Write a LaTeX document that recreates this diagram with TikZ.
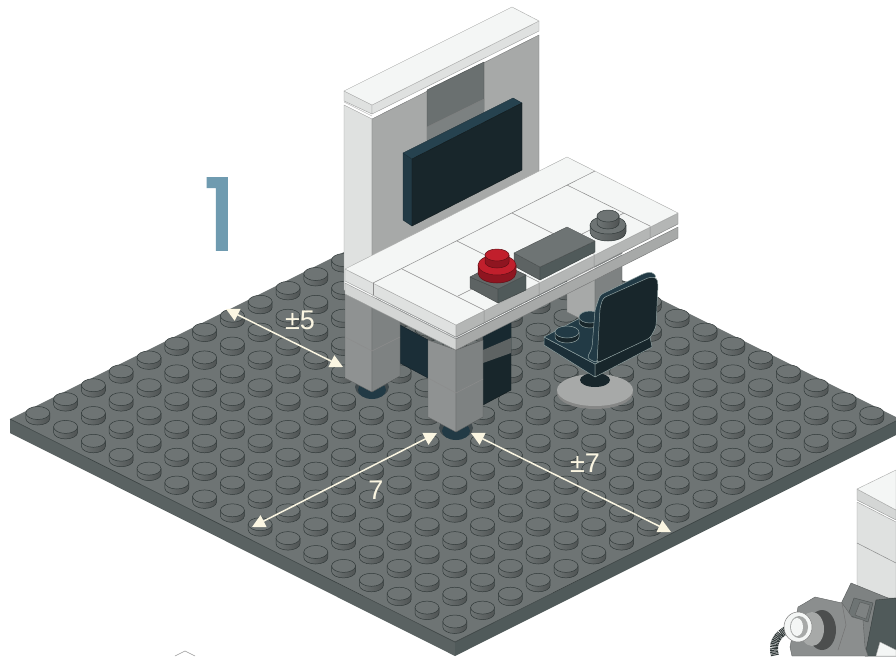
\documentclass[tikz,border=0pt]{standalone}
\usepackage{fontspec}
\setmainfont{Liberation Sans}
\newfontfamily\numfont[FakeBold=3]{Poppins}
\usetikzlibrary{arrows.meta}
\definecolor{platetop}{HTML}{6E7474}
\definecolor{plateleft}{HTML}{5A6262}
\definecolor{plateright}{HTML}{505A5A}
\definecolor{studedge}{HTML}{323A3A}
\definecolor{deskwhite}{HTML}{F4F6F5}
\definecolor{sidelight}{HTML}{DFE1E0}
\definecolor{sidegray}{HTML}{A7A9A8}
\definecolor{legleft}{HTML}{8F9292}
\definecolor{legright}{HTML}{7E8282}
\definecolor{recess}{HTML}{6A7070}
\definecolor{darkface}{HTML}{18262B}
\definecolor{darkblue}{HTML}{223A45}
\definecolor{darktop}{HTML}{26424F}
\definecolor{chairline}{HTML}{8FA0A0}
\definecolor{cream}{HTML}{FBF6E2}
\definecolor{numblue}{HTML}{6F9BB0}
\definecolor{redtop}{HTML}{C11F2C}
\definecolor{reddark}{HTML}{8F1520}
\begin{document}
\begin{tikzpicture}[
  x=1pt, y=-1pt,
    face/.style={draw=#1!70!black, line width=0.4pt, line join=round, fill=#1},
    chairface/.style={draw=chairline, line width=0.5pt, line join=round, fill=#1},
    seam/.style={draw=black!45, line width=0.5pt},
    dim/.style={draw=cream, line width=1.5pt, {Triangle[length=13pt,width=13pt]}-{Triangle[length=13pt,width=13pt]}},
    lab/.style={font=\fontsize{27}{27}\selectfont, text=cream, inner sep=0pt},
    studbody/.style={draw=studedge, line width=0.5pt, left color=#1, right color=#1!72!black},
    studcap/.style={draw=studedge, line width=0.5pt, fill=#1},
    chairbody/.style={draw=chairline, line width=0.5pt, fill=darkface},
]
\clip (0,0) rectangle (896,656);
\fill[white] (0,0) rectangle (896,656);
% base plate
\fill[plateleft] (10,419) -- (455,642) -- (455,656) -- (10,433) -- cycle;
\fill[plateright] (455,642) -- (900,419) -- (900,433) -- (455,656) -- cycle;
\fill[platetop] (10,419) -- (455,196.5) -- (900,419) -- (455,642) -- cycle;
\draw[studedge, line width=0.5pt] (10,419) -- (455,642) -- (900,419);
\foreach \j in {15,...,0} \foreach \i in {0,...,15} {
  \pgfmathsetmacro\sx{10+27.8*(\i+\j+1)}
  \pgfmathsetmacro\sy{419+13.9*(\i-\j)-6}
  \draw[studbody=platetop] ({\sx-12},\sy) -- ({\sx-12},{\sy+5.5}) arc[start angle=180, end angle=0, x radius=12, y radius=6.5] -- ({\sx+12},\sy) -- cycle;
  \draw[studcap=platetop] (\sx,\sy) ellipse[x radius=12, y radius=6.5];
}
% back leg
\draw[face=sidegray] (567,250) -- (595,265) -- (595,326) -- (567,312) -- cycle;
\draw[face=legright] (595,265) -- (622,250) -- (622,312) -- (595,326) -- cycle;
% wall
\draw[face=sidelight] (344,105) -- (372,119) -- (372,300) -- (344,290) -- cycle;
\draw[face=sidegray] (372,119) -- (539,35) -- (539,220) -- (372,300) -- cycle;
\draw[face=sidelight] (344,91) -- (372,105) -- (372,114) -- (344,101) -- cycle;
\draw[face=sidelight] (372,105) -- (539,21) -- (539,31) -- (372,114) -- cycle;
\draw[black!25, line width=0.6pt] (344,102) -- (372,116);
\draw[white, line width=0.6pt] (372,116) -- (539,33);
\draw[face=deskwhite] (344,91) -- (512,7) -- (539,21) -- (372,105) -- cycle;
% recess and screen
\draw[face=recess] (427,90) -- (484,62) -- (484,110) -- (427,140) -- cycle;
\fill[recess!70!sidegray] (427,127) -- (484,99) -- (484,118) -- (427,146) -- cycle;
\draw[black!50, line width=0.4pt] (427,127) -- (484,99);
\draw[face=darkblue] (403,153) -- (412,159) -- (412,226) -- (403,220) -- cycle;
\draw[face=darktop] (403,153) -- (513,98) -- (522,103) -- (412,159) -- cycle;
\draw[face=darkface] (412,159) -- (522,103) -- (522,170) -- (412,226) -- cycle;
% left leg, panel, front leg, cabinet
\draw[fill=darkface!60!gray, draw=none] (372,387) ellipse[x radius=17, y radius=11];
\draw[fill=darkblue, draw=none] (372,390) ellipse[x radius=14, y radius=9];
\draw[face=darkblue!80!black] (400,325) -- (428,340) -- (428,378) -- (400,363) -- cycle;
\draw[face=legleft] (345,290) -- (372,305) -- (372,392) -- (345,378) -- cycle;
\draw[face=legright] (372,305) -- (400,290) -- (400,376) -- (372,392) -- cycle;
\draw[seam] (345,337) -- (372,351) -- (400,337);
\draw[face=darkface] (483,335) -- (511,321) -- (511,390) -- (483,405) -- cycle;
\fill[darkblue!70!black] (483,335) -- (511,321) -- (511,338) -- (483,350) -- cycle;
\fill[platetop!85!black] (483,350) -- (511,338) -- (511,353) -- (483,363) -- cycle;
\draw[fill=darkface!60!gray, draw=none] (456,428) ellipse[x radius=17, y radius=11];
\draw[fill=darkblue, draw=none] (456,431) ellipse[x radius=14, y radius=9];
\draw[face=legleft] (428,340) -- (456,350) -- (456,432) -- (428,417) -- cycle;
\draw[face=legright] (456,350) -- (483,340) -- (483,417) -- (456,432) -- cycle;
\draw[seam] (428,378) -- (456,393) -- (483,379);
% desk top
\draw[face=sidelight] (345,269) -- (456,325) -- (456,337) -- (345,281) -- cycle;
\draw[face=sidelight!95!black] (345,283) -- (456,339) -- (456,350) -- (345,294) -- cycle;
\draw[face=sidegray!85!white] (456,325) -- (678,213) -- (678,224) -- (456,337) -- cycle;
\draw[face=sidegray] (456,339) -- (678,227) -- (678,238) -- (456,350) -- cycle;
\draw[white, line width=0.6pt] (345,282) -- (456,338) -- (678,226);
\draw[face=deskwhite] (345,269) -- (567,157) -- (678,213) -- (456,325) -- cycle;
\draw[seam] (373,283) -- (595,171);
\draw[seam] (458,296) -- (624,213);
\draw[seam] (402,269) -- (484,310) -- (484,322);
\draw[seam] (457,241) -- (539,282) -- (539,294);
\draw[seam] (512,213) -- (594,254) -- (594,266);
\draw[seam] (567,185) -- (650,226) -- (650,238);
\draw[seam] (373,283) -- (373,295);
% flat tile
\draw[face=platetop!85!black] (514,253) -- (540,267) -- (540,280) -- (514,266) -- cycle;
\draw[face=plateright] (540,267) -- (595,241) -- (595,252) -- (540,280) -- cycle;
\draw[face=platetop] (514,253) -- (567,227) -- (595,241) -- (540,267) -- cycle;
% block and red stud
\draw[face=platetop!85!black] (470,277) -- (498,289) -- (498,303) -- (470,288) -- cycle;
\draw[face=plateright] (498,289) -- (526,275) -- (526,290) -- (498,303) -- cycle;
\draw[face=platetop!90!black] (470,277) -- (498,262) -- (526,275) -- (498,289) -- cycle;
\draw[fill=reddark, draw=reddark!70!black, line width=0.5pt] (478,265) -- (478,273) arc[start angle=180, end angle=0, x radius=19, y radius=10] -- (516,265) -- cycle;
\draw[fill=redtop, draw=reddark!70!black, line width=0.5pt] (497,265) ellipse[x radius=19, y radius=10];
\draw[fill=reddark, draw=reddark!70!black, line width=0.5pt] (485,255) -- (485,262) arc[start angle=180, end angle=0, x radius=12, y radius=6] -- (509,255) -- cycle;
\draw[fill=redtop, draw=reddark!70!black, line width=0.5pt] (497,255) ellipse[x radius=12, y radius=6];
% gray stud
\draw[studbody=platetop] (590,225) -- (590,232) arc[start angle=180, end angle=0, x radius=18, y radius=9] -- (626,225) -- cycle;
\draw[studcap=platetop] (608,225) ellipse[x radius=18, y radius=9];
\draw[studbody=platetop] (597,216) -- (597,223) arc[start angle=180, end angle=0, x radius=11, y radius=6] -- (619,216) -- cycle;
\draw[studcap=platetop] (608,216) ellipse[x radius=11, y radius=6];
% chair
\draw[fill=sidegray!80!black, draw=none] (595,393) ellipse[x radius=38, y radius=16];
\draw[fill=sidegray, draw=none] (595,390) ellipse[x radius=38, y radius=16];
\draw[fill=darkface, draw=none] (595,380) ellipse[x radius=15, y radius=7];
\draw[chairface=darkblue!80!black] (544,337) -- (595,364) -- (595,377) -- (544,345) -- cycle;
\draw[chairface=darkface] (595,364) -- (650,337) -- (652,347) -- (595,377) -- cycle;
\draw[chairface=darkblue] (544,337) -- (582,317) -- (600,320) -- (597,363) -- (595,364) -- cycle;
\draw[chairbody] (579,317) -- (579,322) arc[start angle=180, end angle=0, x radius=11, y radius=6] -- (601,317) -- cycle;
\draw[chairface=darkblue] (590,317) ellipse[x radius=11, y radius=6];
\draw[chairbody] (555,332) -- (555,337) arc[start angle=180, end angle=0, x radius=12, y radius=6] -- (579,332) -- cycle;
\draw[chairface=darkblue] (567,332) ellipse[x radius=12, y radius=6];
\draw[chairface=darkblue, rounded corners=3pt] (587,358) -- (592,348) -- (595,310) -- (600,295) -- (645,273) -- (652,272) -- (657,277) -- (603,298) -- (597,363) -- cycle;
\draw[chairface=darkface, rounded corners=3pt] (597,363) -- (600,308) -- (603,298) -- (650,277) -- (657,278) -- (658,285) -- (656,327) -- (650,338) -- cycle;
% next scene, cut off at the edge
\draw[face=sidelight] (857,502) -- (896,522) -- (896,600) -- (857,590) -- cycle;
\draw[seam] (857,543) -- (896,563);
\draw[face=sidelight!95!black] (857,489) -- (896,510) -- (896,520) -- (857,500) -- cycle;
\draw[face=deskwhite] (857,489) -- (896,470) -- (896,510) -- cycle;
\draw[face=legright] (851,583) -- (888,598) -- (896,598) -- (896,656) -- (865,656) -- (838,610) -- cycle;
\draw[face=plateright] (876,600) -- (896,598) -- (896,656) -- (865,656) -- cycle;
\draw[face=platetop] (854,598) -- (873,603) -- (868,622) -- (848,615) -- cycle;
\draw[face=legright] (860,602) -- (870,605) -- (866,619) -- (855,615) -- cycle;
\draw[face=deskwhite] (880,642) -- (896,650) -- (896,656) -- (876,656) -- cycle;
\draw[studedge, line width=8pt, dash pattern=on 1pt off 0.6pt] (790,628) .. controls (775,635) and (772,645) .. (775,656);
\draw[face=legright!90!white] (815,597) -- (842,603) -- (852,617) -- (863,620) -- (865,647) -- (868,656) -- (792,656) -- (790,647) -- (798,607) -- (805,603) -- cycle;
\draw[black!55, line width=0.5pt] (842,603) -- (846,625) -- (838,650);
\draw[fill=legright!60!black, draw=none] (822,630) ellipse[x radius=14, y radius=20];
\draw[fill=sidegray, draw=none] (812,629) ellipse[x radius=12, y radius=17];
\draw[fill=deskwhite, draw=black!50, line width=0.5pt] (798,627) ellipse[x radius=14, y radius=15];
\draw[fill=sidegray, draw=none] (799,627) ellipse[x radius=9, y radius=11];
\draw[fill=deskwhite, draw=none] (797,627) ellipse[x radius=6, y radius=9];
\draw[draw=black!40, line width=0.5pt] (175,656) -- (185,651) -- (195,656);
% measures
\coordinate (fiveA) at (226,309);
\coordinate (fiveB) at (343,367);
\coordinate (sevenA) at (437,433);
\coordinate (sevenB) at (252,527);
\coordinate (pmA) at (471,433);
\coordinate (pmB) at (671,532);
\draw[dim] (fiveA) -- (fiveB);
\draw[dim] (sevenA) -- (sevenB);
\draw[dim] (pmA) -- (pmB);
\node[lab] (lfive) at (300,320) {±5};
\node[lab] (lseven) at (376,490) {7};
\node[lab] (lpm) at (585,463) {±7};
\node[font=\fontsize{98}{98}\selectfont\numfont, text=numblue, inner sep=0pt] (num) at (220,214) {1};
\end{tikzpicture}
\end{document}
